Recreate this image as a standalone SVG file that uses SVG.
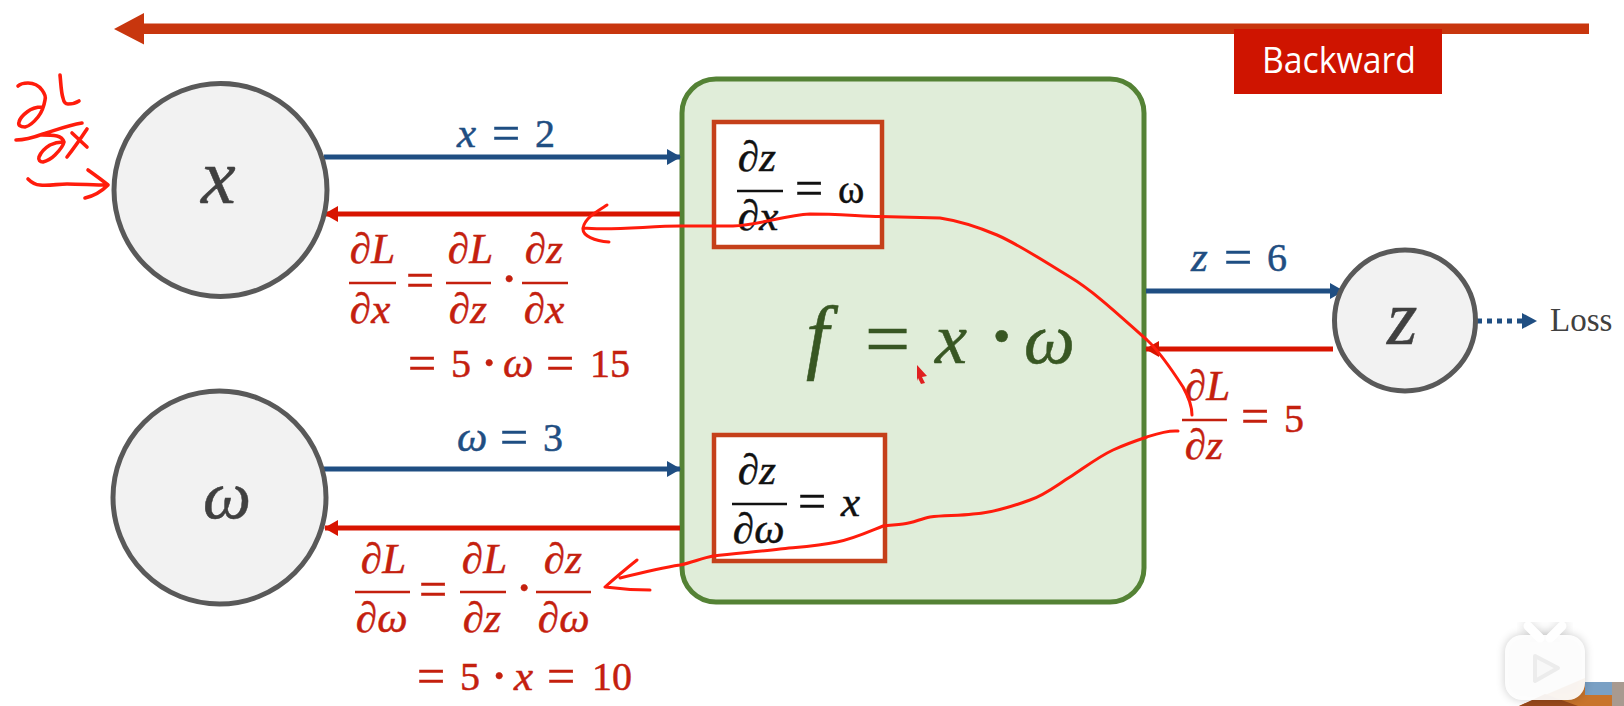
<svg xmlns="http://www.w3.org/2000/svg" width="1624" height="706" viewBox="0 0 1624 706">
<style>
text{font-family:"Liberation Serif",serif;font-size:40px}
.i{font-style:italic;font-size:43px}
.r{fill:#c4200e;stroke:#c4200e;stroke-width:.5}
.b{fill:#1f4e82;stroke:#1f4e82;stroke-width:.5}
.k{fill:#111;stroke:#111;stroke-width:.5}
.e{font-size:50px}
.d{font-size:55px}
.node{fill:#f2f2f2;stroke:#595959;stroke-width:5}
.big{font-size:78px;fill:#404040;stroke:#404040;stroke-width:.5}
.bar{stroke-width:2.500;fill:none}
.rb{stroke:#c4200e}.kb{stroke:#111}
.ink{fill:none;stroke:#ff1c0c;stroke-width:3;stroke-linecap:round;stroke-linejoin:round}
.box{fill:#fff;stroke:#c5401a;stroke-width:4.500}
.bl{stroke:#1f4e82;stroke-width:5;fill:none}
.rd{stroke:#d81400;stroke-width:5;fill:none}
</style>
<defs>
<marker id="ab" markerUnits="userSpaceOnUse" markerWidth="14" markerHeight="16" refX="13" refY="8" orient="auto"><path d="M0 0L14 8L0 16Z" fill="#1f4e82"/></marker>
<marker id="ar" markerUnits="userSpaceOnUse" markerWidth="14" markerHeight="16" refX="13" refY="8" orient="auto"><path d="M0 0L14 8L0 16Z" fill="#d81400"/></marker>
<filter id="sh" x="-30%" y="-30%" width="160%" height="160%"><feGaussianBlur stdDeviation="5"/></filter>
</defs>
<rect width="1624" height="706" fill="#fff"/>

<g id="top-arrow"><path d="M1589 23.500V34H144V44.500L114 29L144 13V23.500Z" fill="#c8360e"/></g>
<g id="backward"><rect x="1234" y="29" width="208" height="65" fill="#cf1400"/>
<text x="1262" y="73" textLength="154" lengthAdjust="spacingAndGlyphs" style="font-family:'Open Sans',sans-serif;font-size:37px" fill="#fff">Backward</text></g>

<g id="node-f">
<rect x="682" y="79" width="462" height="523" rx="34" fill="#e0edd9" stroke="#548235" stroke-width="5"/>
<text y="363" style="font-size:72px" fill="#385723" stroke="#385723" stroke-width=".6"><tspan class="i" x="806" style="font-size:82px">f</tspan> <tspan x="865" y="366" style="font-size:80px">=</tspan> <tspan class="i" x="935" y="363" style="font-size:72px">x</tspan> <tspan x="985" y="369" style="font-size:100px">·</tspan> <tspan class="i" x="1024" y="363" style="font-size:72px">ω</tspan></text>
</g>

<g id="node-dzdx">
<rect class="box" x="714" y="122" width="168" height="125"/>
<text class="k" y="171"><tspan class="i" x="738">∂z</tspan></text>
<path class="bar kb" d="M737 191H783"/>
<text class="k" y="230"><tspan class="i" x="738">∂x</tspan></text>
<text class="k" y="205"><tspan class="e" x="795">=</tspan> <tspan x="838" y="203">ω</tspan></text>
</g>
<g id="node-dzdw">
<rect class="box" x="714" y="435" width="171" height="126"/>
<text class="k" y="484"><tspan class="i" x="738">∂z</tspan></text>
<path class="bar kb" d="M732 504H787"/>
<text class="k" y="543"><tspan class="i" x="733">∂ω</tspan></text>
<text class="k" y="518"><tspan class="e" x="798">=</tspan> <tspan class="i" x="841" y="516">x</tspan></text>
</g>

<g id="connectors">
<path class="bl" d="M324 157H680" marker-end="url(#ab)"/>
<path class="rd" d="M680 214H325" marker-end="url(#ar)"/>
<path class="bl" d="M324 469H680" marker-end="url(#ab)"/>
<path class="rd" d="M680 528H325" marker-end="url(#ar)"/>
<path class="bl" d="M1146 291H1343" marker-end="url(#ab)"/>
<path class="rd" d="M1333 349H1146" marker-end="url(#ar)"/>
<path class="bl" d="M1477 321H1522" stroke-dasharray="5 5"/>
<path d="M1522 313L1537 321L1522 329Z" fill="#1f4e82"/>
</g>

<g id="node-x"><circle class="node" cx="220.500" cy="190" r="106.500"/><text class="big i" x="201" y="203" style="font-size:78px">x</text></g>
<g id="node-w"><circle class="node" cx="219.500" cy="497.500" r="106.500"/><text class="big i" x="203" y="518" style="font-size:68px">ω</text></g>
<g id="node-z"><circle class="node" cx="1405" cy="320.500" r="70.500"/><text class="big i" x="1387" y="344" style="font-size:78px">z</text></g>
<g id="node-loss"><text x="1550" y="331" fill="#404040" style="font-size:33px">Loss</text></g>

<g id="labels-forward">
<text class="b" y="147"><tspan class="i" x="457">x</tspan> <tspan class="e" x="492" y="150">=</tspan> <tspan x="535" y="147">2</tspan></text>
<text class="b" y="451"><tspan class="i" x="457">ω</tspan> <tspan class="e" x="500" y="454">=</tspan> <tspan x="543" y="451">3</tspan></text>
<text class="b" y="271"><tspan class="i" x="1191">z</tspan> <tspan class="e" x="1224" y="274">=</tspan> <tspan x="1267" y="271">6</tspan></text>
</g>

<g id="labels-dldx">
<text class="r i" x="350" y="263">∂L</text><path class="bar rb" d="M349 283H396"/><text class="r i" x="350" y="323">∂x</text>
<text class="r e" x="406" y="296.500">=</text>
<text class="r i" x="448" y="263">∂L</text><path class="bar rb" d="M446 283H491"/><text class="r i" x="449" y="323">∂z</text>
<text class="r d" x="500" y="297">·</text>
<text class="r i" x="525" y="263">∂z</text><path class="bar rb" d="M522 283H568"/><text class="r i" x="524" y="323">∂x</text>
<text class="r" y="377"><tspan class="e" x="408" y="380">=</tspan> <tspan x="451" y="377">5</tspan> <tspan class="d" x="480" y="381">·</tspan> <tspan class="i" x="503" y="377">ω</tspan> <tspan class="e" x="546" y="380">=</tspan> <tspan x="590" y="377">15</tspan></text>
</g>
<g id="labels-dldw">
<text class="r i" x="361" y="573">∂L</text><path class="bar rb" d="M355 592H410"/><text class="r i" x="356" y="632">∂ω</text>
<text class="r e" x="419" y="605.500">=</text>
<text class="r i" x="462" y="573">∂L</text><path class="bar rb" d="M460 592H506"/><text class="r i" x="463" y="632">∂z</text>
<text class="r d" x="515" y="606">·</text>
<text class="r i" x="544" y="573">∂z</text><path class="bar rb" d="M536 592H591"/><text class="r i" x="538" y="632">∂ω</text>
<text class="r" y="690"><tspan class="e" x="417" y="693">=</tspan> <tspan x="460" y="690">5</tspan> <tspan class="d" x="490" y="694">·</tspan> <tspan class="i" x="514" y="690">x</tspan> <tspan class="e" x="547" y="693">=</tspan> <tspan x="592" y="690">10</tspan></text>
</g>
<g id="labels-dldz">
<text class="r i" x="1185" y="400">∂L</text><path class="bar rb" d="M1182 420H1227"/><text class="r i" x="1185" y="459">∂z</text>
<text class="r" y="433"><tspan class="e" x="1241">=</tspan> <tspan x="1284" y="432">5</tspan></text>
</g>

<g id="handwriting">
<path class="ink" d="M607 205C596 212 585 218 583 228C582 236 595 241 609 242M583 228C610 231 650 226 680 226L733 226C760 225 785 215 810 214C835 214 860 216 880 216.500L940 218C960 221 978 227 997 235C1022 246 1048 264 1070 277C1095 292 1122 318 1147 340C1160 352 1172 370 1183 387C1188 396 1192 405 1192 415"/>
<path class="ink" d="M1178 431C1167 430 1156 434 1147 437C1135 441 1124 445 1113 450C1098 457 1084 468 1070 477C1057 485 1045 495 1030 500C1011 507 992 513 973 514C958 516 944 515 930 517C920 519 913 523 903 524C896 525 890 525 883 526C868 532 853 539 837 542C818 546 800 547 780 549C757 552 735 553 713 556C702 558 691 563 680 565C660 568 640 573 620 578M637 560C627 568 615 578 605 587C620 589 635 590 650 590"/>
<path class="ink" style="stroke-width:3.600" d="M18 86C21 83 25 83 28 83C35 83 39 86 42 90C45 94 46 97 45 100C44 106 42 112 38 117C34 122 30 126 25 127C20 127 18 125 19 122C20 118 23 115 27 112C32 108 37 107 42 107M60 75C61 84 61 92 63 98C64 103 66 104 68 104C72 104 76 103 79 101M16 140C25 140 35 137 43 134C56 130 69 125 82 123M42 135C47 135 52 135 57 136C61 137 63 139 64 142C63 147 59 151 55 155C51 159 47 161 43 162C40 162 38 160 39 157C41 152 45 148 50 145C54 143 58 142 63 142M72 133L87 147M87 129C81 138 74 148 67 157M28 179C32 183 36 185 40 185C49 186 58 184 67 184C80 184 94 185 107 185M88 170C95 175 102 180 108 185C102 191 94 196 85 198"/>
<path d="M917 365L927 376L922 377L925 383L921 384L918 378L917 381Z" fill="#e02020"/>
</g>

<g id="corner">
<path d="M1519 706L1585 678V682H1624V706Z" fill="#c8742c"/>
<rect x="1585" y="682" width="27" height="13" fill="#7aa0c4"/>
<rect x="1612" y="682" width="12" height="24" fill="#a89a90"/>
<path d="M1519 706L1545 694L1578 706Z" fill="#9a4a1c"/>
<rect x="1505" y="635" width="80" height="65" rx="17" fill="#000" opacity=".2" filter="url(#sh)"/>
<path d="M1528 626L1540 638M1562 626L1550 638" stroke="#000" stroke-opacity=".12" stroke-width="12" stroke-linecap="round" filter="url(#sh)"/>
<path d="M1528 626L1540 638M1562 626L1550 638" stroke="#fff" stroke-width="9" stroke-linecap="round"/>
<rect x="1505" y="635" width="80" height="65" rx="17" fill="#fff" opacity=".93"/>
<path d="M1535 656L1558 668L1535 681Z" fill="#f8f8f8" stroke="#ececec" stroke-width="4" stroke-linejoin="round"/>
</g>
</svg>
